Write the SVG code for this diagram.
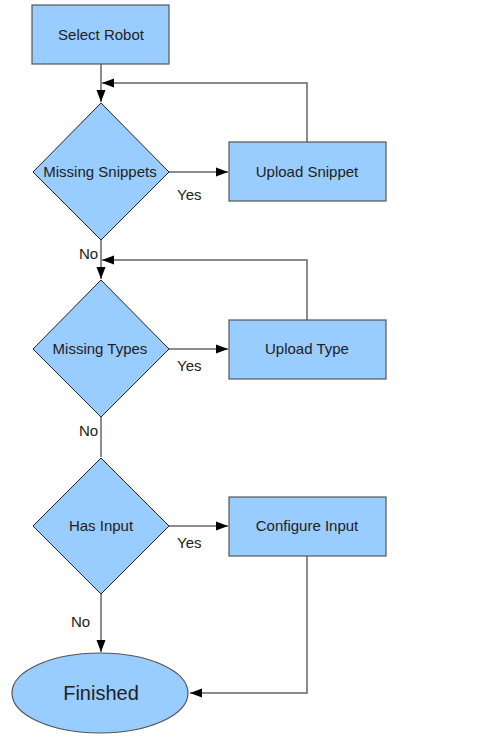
<svg xmlns="http://www.w3.org/2000/svg" width="489" height="745" viewBox="0 0 489 745">
<style>
.n{fill:#99ccff;stroke:#555;stroke-width:1.2}
.d{fill:#99ccff;stroke:#222;stroke-width:1}
.c{fill:none;stroke:#666;stroke-width:1.5}
text{font-family:"Liberation Sans",Arial,sans-serif;font-size:15px;fill:#222}
.t{text-anchor:middle}
</style>
<defs>
<marker id="a" viewBox="0 0 12 10" refX="12" refY="5" markerWidth="12" markerHeight="10" markerUnits="userSpaceOnUse" orient="auto">
<path d="M0,0.5 L12,5 L0,9.5 Z" fill="#000"/>
</marker>
</defs>
<rect width="489" height="745" fill="#fff"/>
<g id="connectors">
<path class="c" d="M101,64 V102" marker-end="url(#a)"/>
<path class="c" d="M307,142 V83 H102" marker-end="url(#a)"/>
<path class="c" d="M169,172 H228" marker-end="url(#a)"/>
<path class="c" d="M101,240 V279" marker-end="url(#a)"/>
<path class="c" d="M307,320 V260 H102" marker-end="url(#a)"/>
<path class="c" d="M169,349 H228" marker-end="url(#a)"/>
<path class="c" d="M101,417 V457"/>
<path class="c" d="M169,526 H228" marker-end="url(#a)"/>
<path class="c" d="M101,594 V652" marker-end="url(#a)"/>
<path class="c" d="M307,556 V693 H190" marker-end="url(#a)"/>
<text x="177" y="200">Yes</text>
<text x="79" y="259">No</text>
<text x="177" y="371">Yes</text>
<text x="79" y="436">No</text>
<text x="177" y="548">Yes</text>
<text x="71" y="627">No</text>
</g>
<g id="select-robot"><rect class="n" x="32" y="5" width="137" height="59"/><text class="t" x="101" y="40">Select Robot</text></g>
<g id="missing-snippets"><polygon class="d" points="101,103 169,172 101,240 33,172"/><text class="t" x="100" y="177">Missing Snippets</text></g>
<g id="upload-snippet"><rect class="n" x="229" y="142" width="157" height="59"/><text class="t" x="307" y="177">Upload Snippet</text></g>
<g id="missing-types"><polygon class="d" points="101,280 169,349 101,417 33,349"/><text class="t" x="100" y="354">Missing Types</text></g>
<g id="upload-type"><rect class="n" x="229" y="320" width="157" height="59"/><text class="t" x="307" y="354">Upload Type</text></g>
<g id="has-input"><polygon class="d" points="101,458 169,526 101,594 33,526"/><text class="t" x="101" y="531">Has Input</text></g>
<g id="configure-input"><rect class="n" x="229" y="497" width="157" height="59"/><text class="t" x="307" y="531">Configure Input</text></g>
<g id="finished"><ellipse class="n" cx="100" cy="693" rx="88" ry="40"/><text class="t" x="101" y="700" style="font-size:20px">Finished</text></g>
</svg>
